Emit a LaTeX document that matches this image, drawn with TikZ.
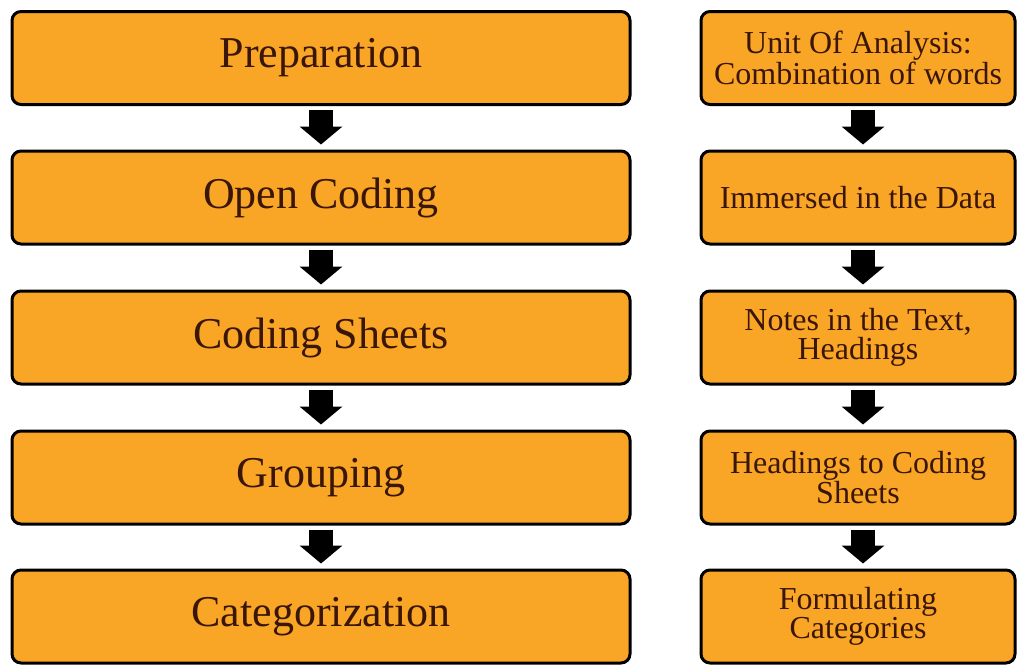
\documentclass[tikz,border=0pt]{standalone}
\usepackage{fontspec}
\setmainfont{Liberation Serif}
\usetikzlibrary{arrows.meta}
\definecolor{boxfill}{HTML}{F9A526}
\definecolor{boxtext}{HTML}{3A1608}
\tikzset{
  stage/.style={draw=black, line width=3pt, fill=boxfill, rounded corners=9pt,
    text=boxtext, align=center, inner sep=2pt},
  bigstage/.style={stage, minimum width=618pt, minimum height=93pt, font=\fontsize{44}{46}\selectfont},
  smallstage/.style={stage, minimum width=314pt, minimum height=93pt, font=\fontsize{32}{29}\selectfont},
  flow/.style={line width=24pt, black, -{Triangle[width=42pt,length=18pt]},
    shorten <=4pt, shorten >=5pt}
}
\begin{document}
\begin{tikzpicture}[x=1pt,y=-1pt]
  \useasboundingbox (0,0) rectangle (1019,664);
  % left column
  \node[bigstage] (p1) at (321,58) {Preparation};
  \node[bigstage] (p2) at (321,197.5) {Open Coding};
  \node[bigstage] (p3) at (321,337.5) {Coding Sheets};
  \node[bigstage] (p4) at (321,477.5) {Grouping};
  \node[bigstage] (p5) at (321,616.5) {Categorization};
  % right column
  \node[smallstage] (q1) at (858,58) {Unit Of Analysis:\\Combination of words};
  \node[smallstage] (q2) at (858,197.5) {Immersed in the Data};
  \node[smallstage] (q3) at (858,337.5) {Notes in the Text,\\Headings};
  \node[smallstage] (q4) at (858,477.5) {Headings to Coding\\Sheets};
  \node[smallstage] (q5) at (858,616.5) {Formulating\\Categories};
  % block arrows between steps
  \foreach \a/\b in {p1/p2,p2/p3,p3/p4,p4/p5}
    \draw[flow] (\a.south) -- (\b.north);
  \foreach \a/\b in {q1/q2,q2/q3,q3/q4,q4/q5}
    \draw[flow] ([xshift=5pt]\a.south) -- ([xshift=5pt]\b.north);
\end{tikzpicture}
\end{document}
